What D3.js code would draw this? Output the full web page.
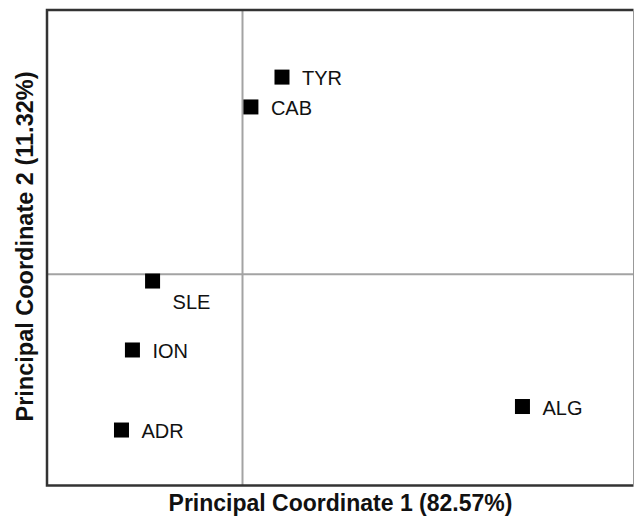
<!DOCTYPE html>
<html>
<head>
<meta charset="utf-8">
<script src="https://cdn.jsdelivr.net/npm/d3@7"></script>
<style>
  body { margin: 0; background: #fff; }
  svg { display: block; font-family: "Liberation Sans", Arial, sans-serif; }
</style>
</head>
<body>
<svg id="svg" width="635" height="516"></svg>
<script>
const sites = ['TYR', 'CAB', 'SLE', 'ION', 'ADR', 'ALG']
const pco1 = [0.0202, 0.0043, -0.0460, -0.0563, -0.0619, 0.1432]
const pco2 = [0.0746, 0.0633, -0.0026, -0.0287, -0.0590, -0.0501]
const xTitle = 'Principal Coordinate 1 (82.57%)'
const yTitle = 'Principal Coordinate 2 (11.32%)'

// labels sitting below the marker instead of beside it
const labelBelow = ['SLE']

const plotLeft = 47
const plotRight = 633.5
const plotTop = 10
const plotBottom = 485.5

const points = sites.map((name, i) => ({ name, x: pco1[i], y: pco2[i] }))

const xScale = d3.scaleLinear()
  .domain([-0.1, 0.2])
  .range([plotLeft, plotRight])

const yScale = d3.scaleLinear()
  .domain([-0.08, 0.1])
  .range([plotBottom, plotTop])

const svg = d3.select('#svg')

// zero lines
svg.append('line')
  .attr('x1', xScale(0)).attr('x2', xScale(0))
  .attr('y1', plotTop).attr('y2', plotBottom)
  .attr('stroke', '#a3a3a3')
  .attr('stroke-width', 2)

svg.append('line')
  .attr('x1', plotLeft).attr('x2', plotRight)
  .attr('y1', yScale(0)).attr('y2', yScale(0))
  .attr('stroke', '#a3a3a3')
  .attr('stroke-width', 2)

// frame
svg.append('path')
  .attr('d', `M${plotRight},${plotTop}H${plotLeft}V${plotBottom}H${plotRight}`)
  .attr('fill', 'none')
  .attr('stroke', '#333')
  .attr('stroke-width', 2.5)

svg.append('line')
  .attr('x1', plotRight).attr('x2', plotRight)
  .attr('y1', plotTop).attr('y2', plotBottom)
  .attr('stroke', '#999')
  .attr('stroke-width', 1)

const size = 15

const g = svg.append('g')

g.selectAll('rect')
  .data(points)
  .join('rect')
  .attr('x', d => xScale(d.x) - size / 2)
  .attr('y', d => yScale(d.y) - size / 2)
  .attr('width', size)
  .attr('height', size)
  .attr('fill', '#000')

g.selectAll('text')
  .data(points)
  .join('text')
  .attr('x', d => xScale(d.x) + 20)
  .attr('y', d => yScale(d.y) + (labelBelow.includes(d.name) ? 28 : 8))
  .attr('font-size', 20)
  .attr('fill', '#111')
  .text(d => d.name)

svg.append('text')
  .attr('x', 340.5)
  .attr('y', 511)
  .attr('text-anchor', 'middle')
  .attr('font-size', 23)
  .attr('font-weight', 'bold')
  .attr('fill', '#111')
  .text(xTitle)

svg.append('text')
  .attr('transform', `translate(33, 246.5) rotate(-90)`)
  .attr('text-anchor', 'middle')
  .attr('font-size', 23.5)
  .attr('font-weight', 'bold')
  .attr('fill', '#111')
  .text(yTitle)
</script>
</body>
</html>
